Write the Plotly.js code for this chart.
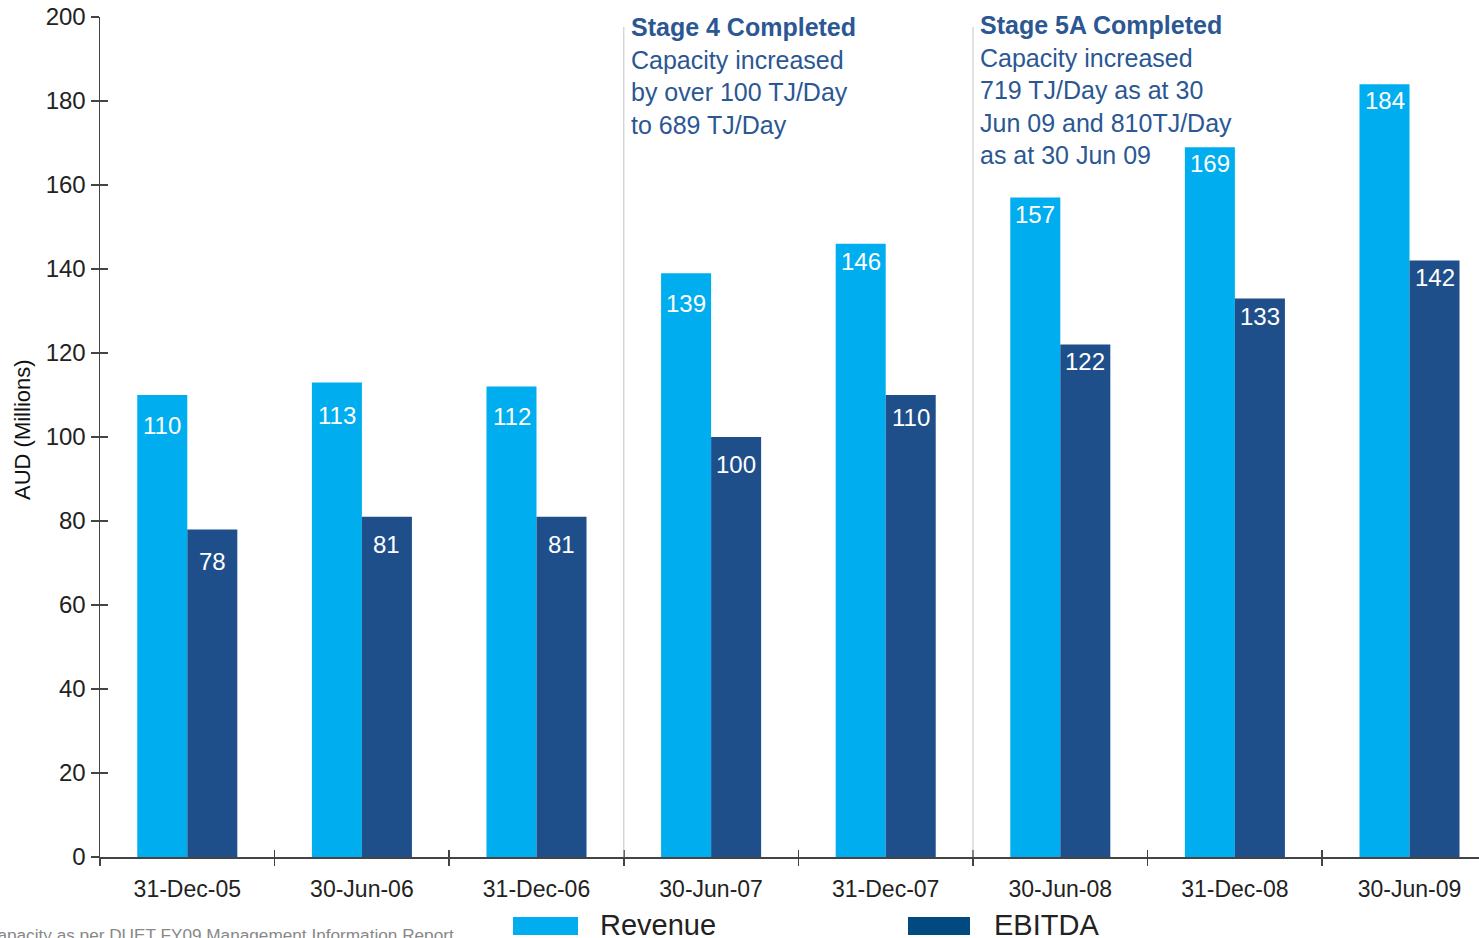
<!DOCTYPE html>
<html>
<head>
<meta charset="utf-8">
<script src="https://cdn.plot.ly/plotly-3.0.1.min.js"></script>
<style>html,body{margin:0;padding:0;background:#fff;}#chart{width:1479px;height:938px;}</style>
</head>
<body>
<div id="chart"></div>
<script>
const categories = ['31-Dec-05','30-Jun-06','31-Dec-06','30-Jun-07','31-Dec-07','30-Jun-08','31-Dec-08','30-Jun-09'];
const revenue = [110,113,112,139,146,157,169,184];
const ebitda = [78,81,81,100,110,122,133,142];
const seriesNames = ['Revenue','EBITDA'];
const seriesColors = ['#00AEEF','#1F4F8B'];
const legendColors = ['#00AEEF','#004A80'];
const stageNotes = [
  {after: 2.5, top: 11, text: '<b>Stage 4 Completed</b><br>Capacity increased<br>by over 100 TJ/Day<br>to 689 TJ/Day'},
  {after: 4.5, top: 9, text: '<b>Stage 5A Completed</b><br>Capacity increased<br>719 TJ/Day as at 30<br>Jun 09 and 810TJ/Day<br>as at 30 Jun 09'}
];
const footnote = 'Capacity as per DUET FY09 Management Information Report';
const yTitle = 'AUD (Millions)';

// label drop below bar top (pixels), per category, for [revenue, ebitda]
const labelDrop = [[30,32],[33,28],[30,28],[30,27],[18,22],[17,17],[16,18],[16,17]];

const W = 1479, H = 938, L = 100, T = 17, PW = 1379, PH = 840;
const px = x => (x - L) / PW;
const py = y => (T + PH - y) / PH;
const FONT = 'Liberation Sans, Arial, sans-serif';

const traces = [
  {type:'bar', name: seriesNames[0], x: categories, y: revenue, marker:{color: seriesColors[0]}, hoverinfo:'y'},
  {type:'bar', name: seriesNames[1], x: categories, y: ebitda, marker:{color: seriesColors[1]}, hoverinfo:'y'}
];

const annotations = [];
[[revenue,-25,0],[ebitda,25,1]].forEach(([vals, xs, k]) => {
  vals.forEach((v, i) => annotations.push({
    x: categories[i], y: v, xref:'x', yref:'y', text: String(v), showarrow:false,
    xshift: xs, yshift: -labelDrop[i][k], yanchor:'middle', xanchor:'center',
    font:{family: FONT, size: 24, color:'#ffffff'}
  }));
});
stageNotes.forEach(s => annotations.push({
  x: s.after, xref:'x', xanchor:'left', xshift: 5,
  y: py(s.top), yref:'paper', yanchor:'top', align:'left',
  text: s.text, showarrow:false,
  font:{family: FONT, size: 25, color:'#2B5793'}
}));
annotations.push({
  x: px(22), xref:'paper', y: py(430), yref:'paper', text: yTitle, textangle:-90,
  showarrow:false, xanchor:'center', yanchor:'middle',
  font:{family: FONT, size: 22, color:'#111'}
});
annotations.push({
  x: px(456), xref:'paper', xanchor:'right', y: py(935), yref:'paper', yanchor:'middle',
  text: footnote, showarrow:false, font:{family: FONT, size: 17.2, color:'#888'}
});
const legendPos = [[513,578,598],[908,970,992]];
const shapes = [];
seriesNames.forEach((n, k) => {
  const [x0, x1, tx] = legendPos[k];
  shapes.push({type:'rect', xref:'paper', yref:'paper', x0: px(x0), x1: px(x1), y0: py(935), y1: py(917),
    fillcolor: legendColors[k], line:{width:0}});
  annotations.push({x: px(tx), xref:'paper', xanchor:'left', y: py(925), yref:'paper', yanchor:'middle',
    text: n, showarrow:false, font:{family: FONT, size: 29, color:'#222'}});
});
stageNotes.forEach(s => shapes.push({type:'line', xref:'x', yref:'y', x0: s.after, x1: s.after, y0: 0, y1: 197.6,
  line:{color:'#c4c4c4', width:1}}));

const layout = {
  width: W, height: H,
  margin:{l: L, r: W - L - PW, t: T, b: H - T - PH, pad: 0},
  paper_bgcolor:'#fff', plot_bgcolor:'#fff',
  showlegend:false, barmode:'group', bargap: 0.427, bargroupgap: 0,
  font:{family: FONT, color:'#222'},
  xaxis:{type:'category', range:[-0.5, -0.5 + PW/174.6], showgrid:false, zeroline:false,
    showline:true, linecolor:'#444', linewidth:1.5, ticks:'outside', tickson:'boundaries', ticklen:7,
    tickcolor:'#444', tickwidth:1.5, ticklabelstandoff: 11,
    tickfont:{family: FONT, size: 23, color:'#222'}, fixedrange:true},
  xaxis2:{overlaying:'x', anchor:'y', type:'linear', range:[-0.5, -0.5 + PW/174.6], showgrid:false, zeroline:false,
    showline:false, ticks:'inside', ticklen:7, tickcolor:'#444', tickwidth:1.5, showticklabels:false,
    tickvals: categories.map((c,i)=>i-0.5)},
  yaxis:{range:[0,200], dtick:20, showgrid:false, zeroline:false, showline:true, linecolor:'#444', linewidth:1.5,
    ticks:'outside', ticklen:8, tickcolor:'#444', tickwidth:1.5,
    tickfont:{family: FONT, size: 24, color:'#222'}, fixedrange:true},
  yaxis2:{overlaying:'y', anchor:'x', side:'left', range:[0,200], dtick:20, showgrid:false, zeroline:false,
    showline:false, ticks:'inside', ticklen:8, tickcolor:'#444', tickwidth:1.5, showticklabels:false},
  annotations, shapes
};
traces.push({type:'scatter', x:[0], y:[0], xaxis:'x2', yaxis:'y2', mode:'markers', marker:{opacity:0}, hoverinfo:'skip', showlegend:false});
Plotly.newPlot('chart', traces, layout, {displayModeBar:false, staticPlot:true});
</script>
</body>
</html>
